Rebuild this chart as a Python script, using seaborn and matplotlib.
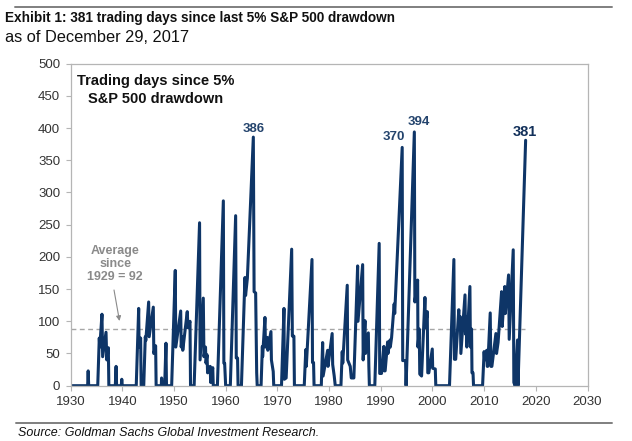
import matplotlib
matplotlib.use("Agg")
import matplotlib.pyplot as plt
import seaborn as sns
import pandas as pd

# ---------------------------------------------------------------
# Data (sawtooth vertices)
# ---------------------------------------------------------------
years = [
    1930.0, 1933.3, 1933.4, 1933.5, 1935.25, 1935.55, 1935.65, 1936.07, 1936.2, 1936.85,
    1937.0, 1937.3, 1937.4, 1938.65, 1938.8, 1938.9, 1939.8, 1939.9, 1940.0, 1942.7,
    1943.17, 1943.25, 1943.55, 1943.65, 1944.15, 1944.45, 1944.55, 1945.1, 1945.2, 1946.0,
    1946.1, 1946.45, 1946.55, 1947.55, 1947.6, 1947.7, 1948.2, 1948.45, 1948.55, 1949.55,
    1950.25, 1950.35, 1951.3, 1951.4, 1951.6, 1951.7, 1952.57, 1952.7, 1953.1, 1953.2,
    1953.9, 1954.95, 1955.05, 1955.67, 1955.8, 1956.1, 1956.2, 1956.4, 1956.5, 1957.0,
    1957.1, 1957.5, 1957.6, 1958.4, 1959.55, 1959.65, 1959.8, 1960.0, 1960.9, 1961.93,
    1962.05, 1962.3, 1962.4, 1963.05, 1963.73, 1963.85, 1964.2, 1965.35, 1965.5, 1965.8,
    1966.0, 1966.1, 1966.85, 1967.1, 1967.15, 1967.6, 1967.7, 1968.05, 1968.15, 1968.76,
    1968.85, 1969.2, 1969.3, 1970.8, 1971.28, 1971.35, 1971.7, 1972.77, 1972.9, 1973.2,
    1973.3, 1975.2, 1975.5, 1975.6, 1976.7, 1976.8, 1977.0, 1977.1, 1978.5, 1978.76,
    1978.85, 1979.73, 1979.8, 1980.6, 1980.7, 1981.0, 1981.2, 1982.3, 1982.55, 1982.65,
    1983.52, 1983.6, 1984.1, 1984.3, 1984.8, 1985.53, 1985.6, 1986.5, 1986.6, 1986.95,
    1987.05, 1987.6, 1987.7, 1987.8, 1988.85, 1989.7, 1989.8, 1990.15, 1990.6, 1990.7,
    1990.85, 1991.33, 1991.4, 1991.8, 1991.85, 1992.1, 1992.6, 1992.7, 1994.15, 1994.25,
    1994.8, 1994.9, 1996.5, 1996.6, 1997.14, 1997.2, 1997.45, 1997.55, 1997.9, 1998.55,
    1998.65, 1999.0, 1999.1, 1999.3, 1999.97, 2000.05, 2000.55, 2000.65, 2003.3, 2004.15,
    2004.25, 2004.5, 2005.1, 2005.2, 2005.4, 2005.5, 2006.3, 2006.4, 2006.55, 2006.65,
    2007.25, 2007.35, 2007.57, 2007.65, 2007.85, 2007.95, 2009.7, 2010.0, 2010.1, 2010.5,
    2010.6, 2010.7, 2011.18, 2011.3, 2011.5, 2012.28, 2012.4, 2012.7, 2013.38, 2013.5,
    2014.0, 2014.1, 2014.73, 2014.85, 2015.63, 2015.75, 2016.0, 2016.46, 2016.55, 2018.03,
]
days = [
    0, 0, 23, 0, 0, 74, 60, 111, 45, 83,
    40, 59, 0, 0, 30, 0, 0, 10, 0, 0,
    120, 60, 74, 0, 0, 76, 70, 130, 76, 122,
    50, 62, 0, 0, 12, 0, 0, 66, 0, 0,
    179, 60, 116, 60, 76, 55, 115, 90, 100, 0,
    0, 253, 40, 136, 45, 60, 35, 48, 20, 30,
    5, 28, 0, 0, 287, 35, 35, 0, 0, 264,
    43, 43, 0, 0, 168, 140, 167, 386, 146, 144,
    20, 0, 0, 61, 45, 106, 60, 75, 55, 84,
    40, 22, 0, 0, 120, 10, 12, 212, 77, 77,
    0, 0, 56, 30, 196, 36, 36, 0, 0, 67,
    15, 55, 30, 81, 33, 15, 0, 0, 53, 35,
    156, 40, 30, 12, 12, 186, 100, 188, 40, 101,
    50, 82, 30, 0, 0, 221, 19, 19, 61, 23,
    23, 68, 50, 71, 60, 75, 127, 112, 370, 39,
    39, 0, 394, 130, 164, 60, 88, 18, 15, 137,
    90, 115, 20, 20, 57, 27, 26, 0, 0, 196,
    41, 41, 118, 90, 107, 50, 141, 80, 107, 60,
    154, 60, 88, 20, 20, 0, 0, 53, 40, 55,
    30, 30, 113, 30, 30, 81, 50, 67, 146, 92,
    154, 112, 172, 72, 211, 5, 0, 71, 0, 381,
]

peak_years = [1965.35, 1994.15, 1996.5, 2018.03]
peak_days = [386, 370, 394, 381]
peak_offsets = [(0.5, 1.5), (-6.0, 3.0), (3.0, 3.0), (-0.5, 1.0)]
peak_sizes = [9.5, 9.5, 9.5, 10.5]

avg_level = 88
avg_end_year = 2018

x_ticks = list(range(1930, 2031, 10))
y_ticks = list(range(0, 501, 50))

df = pd.DataFrame({"year": years, "days": days})

# ---------------------------------------------------------------
# Style
# ---------------------------------------------------------------
sns.set_theme(style="ticks")
plt.rcParams["font.family"] = ["Liberation Sans", "DejaVu Sans"]

NAVY = "#0e3567"
GREY_TXT = "#8a8a8a"

fig = plt.figure(figsize=(6.32, 4.41), dpi=100)
ax = fig.add_axes([0.1117, 0.1254, 0.8179, 0.7302])

sns.lineplot(data=df, x="year", y="days", color=NAVY, linewidth=2.2,
             sort=False, estimator=None, ax=ax)

# average line
ax.plot([1930, avg_end_year], [avg_level, avg_level], color="#a6a6a6",
        linestyle=(0, (3.5, 2.5)), linewidth=1.0, zorder=1)

ax.set_xlim(1930, 2030)
ax.set_ylim(0, 500)
ax.set_xticks(x_ticks)
ax.set_yticks(y_ticks)
ax.set_xlabel("")
ax.set_ylabel("")
ax.tick_params(axis="both", labelsize=9.5, colors="#333333", length=3.5,
               width=0.8, pad=4)
ax.tick_params(axis="both", color="#b5b5b5")
for s in ax.spines.values():
    s.set_visible(True)
    s.set_color("#b5b5b5")
    s.set_linewidth(0.9)

# peak labels
for yr, val, off, fs in zip(peak_years, peak_days, peak_offsets, peak_sizes):
    ax.annotate(str(val), xy=(yr, val), xytext=off, textcoords="offset points",
                ha="center", va="bottom", fontsize=fs, fontweight="bold",
                color="#24446d" if fs < 10 else "#12305a")

# inner title
ax.text(0.165, 0.918, "Trading days since 5%\nS&P 500 drawdown",
        transform=ax.transAxes, ha="center", va="center", multialignment="center",
        fontsize=10.5, fontweight="bold", color="#111111", linespacing=1.3)

# average annotation
ax.text(0.086, 0.378, "Average\nsince\n1929 = 92", transform=ax.transAxes,
        ha="center", va="center", multialignment="center", fontsize=9,
        fontweight="bold", color=GREY_TXT, linespacing=1.1)
ax.annotate("", xy=(1939.46, 100.5), xytext=(1938.4, 148.6),
            arrowprops=dict(arrowstyle="-|>", color="#8a8a8a", lw=0.8,
                            mutation_scale=7, shrinkA=0, shrinkB=0))

# figure header / footer
fig.text(0.008, 0.959, "Exhibit 1: 381 trading days since last 5% S&P 500 drawdown",
         ha="left", va="center", fontsize=9.8, fontweight="bold", color="#111111")
fig.text(0.008, 0.914, "as of December 29, 2017", ha="left", va="center",
         fontsize=11.8, color="#111111")
fig.text(0.028, 0.018, "Source: Goldman Sachs Global Investment Research.",
         ha="left", va="center", fontsize=9, fontstyle="italic", color="#111111")

fig.add_artist(plt.Line2D([0.024, 0.968], [0.984, 0.984], color="#7f7f7f",
                          linewidth=1.4, transform=fig.transFigure))
fig.add_artist(plt.Line2D([0.026, 0.968], [0.0415, 0.0415], color="#7f7f7f",
                          linewidth=1.4, transform=fig.transFigure))

fig.savefig("out.png", dpi=100)
plt.close(fig)
